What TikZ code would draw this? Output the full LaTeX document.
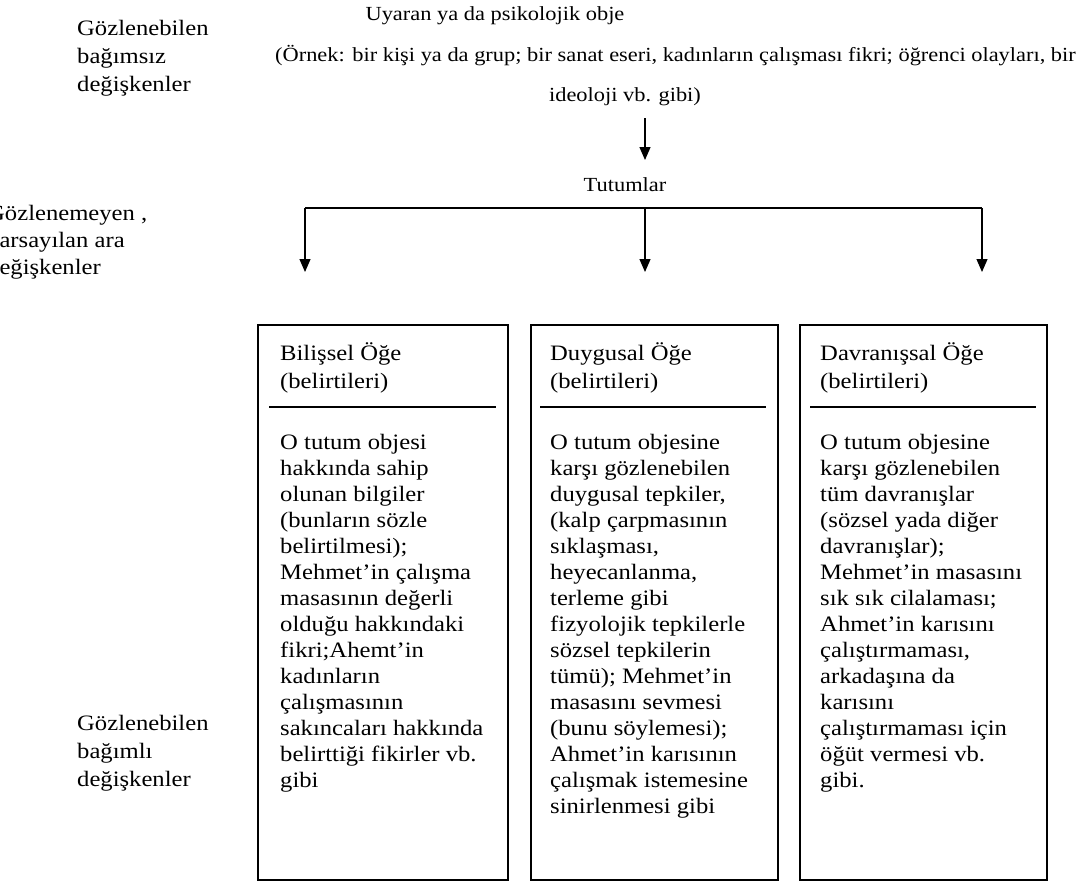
\documentclass[tikz,border=0pt]{standalone}
\usepackage{fontspec}
\setmainfont[FakeStretch=1.12]{Liberation Serif}
\usetikzlibrary{positioning, arrows.meta}

\tikzset{
  lbl/.style={font=\fontsize{22}{28}\selectfont, align=left, inner sep=0pt, anchor=base west},
  small/.style={font=\fontsize{20}{24}\selectfont, inner sep=0pt, anchor=base},
  part/.style={draw, line width=1.2pt, minimum height=555pt, inner sep=0pt},
  head/.style={font=\fontsize{22}{28}\selectfont, align=left, inner sep=0pt, anchor=base west},
  body/.style={font=\fontsize{22}{26}\selectfont, align=left, inner sep=0pt, anchor=base west},
  wire/.style={line width=1.2pt},
  link/.style={line width=1.2pt, -{Triangle[width=11pt,length=13pt]}},
}

\begin{document}
\begin{tikzpicture}[x=1pt,y=-1pt]

\useasboundingbox (0,0) rectangle (1084,895);

% left side labels (base = last line)
\node[lbl] (indep) at (77,91) {Gözlenebilen\\bağımsız\\değişkenler};
\node[lbl, font=\fontsize{22}{27}\selectfont] (inter) at (-13,274) {Gözlenemeyen ,\\varsayılan ara\\değişkenler};
\node[lbl] (dep) at (77,786) {Gözlenebilen\\bağımlı\\değişkenler};

% stimulus
\node[small] (obj) at (495,20) {Uyaran ya da psikolojik obje};
\node[small, anchor=base west] (ex1) at (275,61) {(Örnek: bir kişi ya da grup; bir sanat eseri, kadınların çalışması fikri; öğrenci olayları, bir};
\node[small] (ex2) at (625,101) {ideoloji vb. gibi)};

\coordinate (down1) at (645,118);
\coordinate (down2) at (645,160);
\draw[link] (down1) -- (down2);

\node[small] (att) at (625,191) {Tutumlar};

% branches
\foreach \n/\x in {L/305,M/645,R/982}{
  \coordinate (bus\n) at (\x,208);
  \coordinate (tip\n) at (\x,272);
}
\draw[wire] (busL) -- (busR);
\foreach \n in {L,M,R}
\draw[link] (bus\n) -- (tip\n);

% components
\node[part, minimum width=250pt] (cog) at (383,602.5) {};
\node[part, minimum width=247pt] (aff) at (654.5,602.5) {};
\node[part, minimum width=247pt] (beh) at (923.5,602.5) {};

\draw[wire] (269,407) -- (496,407);
\draw[wire] (540,407) -- (766,407);
\draw[wire] (810,407) -- (1036,407);

\node[head] (cogh) at (280,388) {Bilişsel Öğe\\(belirtileri)};
\node[head] (affh) at (550,388) {Duygusal Öğe\\(belirtileri)};
\node[head] (behh) at (820,388) {Davranışsal Öğe\\(belirtileri)};

\node[body] (cogt) at (280,787) {O tutum objesi\\hakkında sahip\\olunan bilgiler\\(bunların sözle\\belirtilmesi);\\Mehmet’in çalışma\\masasının değerli\\olduğu hakkındaki\\fikri;Ahemt’in\\kadınların\\çalışmasının\\sakıncaları hakkında\\belirttiği fikirler vb.\\gibi};

\node[body] (afft) at (550,813) {O tutum objesine\\karşı gözlenebilen\\duygusal tepkiler,\\(kalp çarpmasının\\sıklaşması,\\heyecanlanma,\\terleme gibi\\fizyolojik tepkilerle\\sözsel tepkilerin\\tümü); Mehmet’in\\masasını sevmesi\\(bunu söylemesi);\\Ahmet’in karısının\\çalışmak istemesine\\sinirlenmesi gibi};

\node[body] (beht) at (820,787) {O tutum objesine\\karşı gözlenebilen\\tüm davranışlar\\(sözsel yada diğer\\davranışlar);\\Mehmet’in masasını\\sık sık cilalaması;\\Ahmet’in karısını\\çalıştırmaması,\\arkadaşına da\\karısını\\çalıştırmaması için\\öğüt vermesi vb.\\gibi.};

\end{tikzpicture}
\end{document}
